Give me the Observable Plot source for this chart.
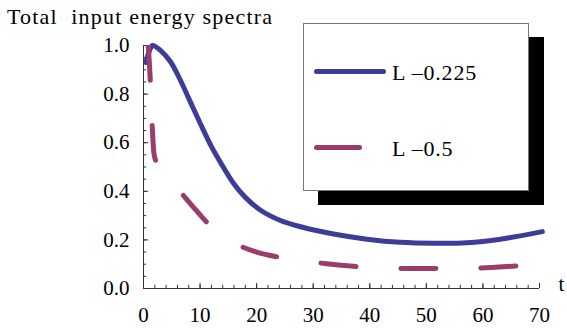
<!DOCTYPE html>
<html>
<head>
<meta charset="utf-8">
<style>
  html, body { margin: 0; padding: 0; background: #fff; }
  #wrap { position: relative; width: 567px; height: 330px; color: #000; font-family: "Times New Roman", Tinos, "Liberation Serif", serif; }
  #title { position: relative; height: 30px; }
  #title span { position: absolute; left: 7px; top: 5.6px; font-size: 22px; line-height: 22px; letter-spacing: 1.2px; white-space: pre; }
  #legend { position: absolute; left: 303px; top: 23px; width: 224px; height: 166px; border: 1px solid #777; background: #fff; box-shadow: 15px 14px 0 0 #000; }
  .sw { position: absolute; left: 10px; height: 5px; border-radius: 2.5px; }
  .lab { position: absolute; left: 88px; font-size: 22px; line-height: 22px; letter-spacing: 0.8px; white-space: pre; }
</style>
</head>
<body>
<div id="wrap">
  <div id="title"><span></span></div>
  <div id="chart"></div>
  <div id="legend"></div>
</div>
<script src="https://cdn.jsdelivr.net/npm/d3@7"></script>
<script src="https://cdn.jsdelivr.net/npm/@observablehq/plot@0.6"></script>
<script>
// ---- data ----
const titleText = "Total  input energy spectra";
const xLabel = "t";
const seriesLabels = ["L \u20130.225", "L \u20130.5"];
const seriesColors = ["#3d3d99", "#993d6b"];

// L = 0.225 (solid)
const tSolid = [0.4, 1.0, 1.6, 3.0, 4.8, 6.5, 8.3, 10.1, 11.9, 13.6, 15.9, 18.0, 20.7, 24.2, 27.8, 33.6, 39.5, 45.4, 51.3, 57.2, 63.1, 70.5];
const vSolid = [0.93, 0.975, 1.0, 0.98, 0.932, 0.858, 0.767, 0.676, 0.589, 0.519, 0.433, 0.375, 0.322, 0.28, 0.254, 0.224, 0.203, 0.19, 0.186, 0.188, 0.203, 0.234];

// L = 0.5 (dashed)
const tDashed = [0.85, 1.05, 1.24, 1.4, 1.54, 1.7, 1.85, 2.1, 2.4, 3.5, 5, 6.8, 9, 11.3, 14, 17.1, 20, 23.6, 27, 30.7, 37.8, 44.5, 51.6, 58.7, 65.8, 70];
const vDashed = [1.0, 0.92, 0.84, 0.75, 0.67, 0.6, 0.555, 0.53, 0.515, 0.48, 0.44, 0.39, 0.33, 0.27, 0.215, 0.175, 0.15, 0.13, 0.115, 0.106, 0.09, 0.083, 0.082, 0.083, 0.093, 0.1];

const xTicks = [0, 10, 20, 30, 40, 50, 60, 70];
const xTickLabels = ["0", "10", "20", "30", "40", "50", "60", "70"];
const xMinorTicks = d3.range(0, 71, 2);
const yTicks = [0, 0.2, 0.4, 0.6, 0.8, 1.0];
const yTickLabels = ["0.0", "0.2", "0.4", "0.6", "0.8", "1.0"];
const yMinorTicks = d3.range(0, 21).map(i => i * 0.05);

// ---- build ----
const solid = tSolid.map((t, i) => ({t, v: vSolid[i]}));
const dashed = tDashed.map((t, i) => ({t, v: vDashed[i]}));

document.querySelector("#title span").textContent = titleText;

const serif = "'Times New Roman', Tinos, 'Liberation Serif', serif";
const axisColor = "#333";
const chart = Plot.plot({
  width: 567,
  height: 300,
  marginLeft: 143,
  marginRight: 28,
  marginTop: 15,
  marginBottom: 42,
  x: {domain: [0, 70]},
  y: {domain: [0, 1]},
  style: {fontFamily: serif, fontSize: "21px", color: "#000", background: "transparent", overflow: "visible"},
  marks: [
    Plot.axisX({ticks: xTicks, tickSize: 0, tickPadding: 18.6, tickFormat: d => xTickLabels[xTicks.indexOf(d)], label: null, fontSize: 21}),
    Plot.axisY({ticks: yTicks, tickSize: 0, tickPadding: 14, tickFormat: d => yTickLabels[yTicks.indexOf(d)], label: null, fontSize: 21}),
    Plot.ruleX(xMinorTicks, {x: d => d, y1: 0, y2: 0.013, stroke: axisColor, strokeWidth: 1}),
    Plot.ruleX(xTicks, {x: d => d, y1: 0, y2: 0.021, stroke: axisColor, strokeWidth: 1}),
    Plot.ruleY(yMinorTicks, {y: d => d, x1: 0, x2: 0.55, stroke: axisColor, strokeWidth: 1}),
    Plot.ruleY(yTicks, {y: d => d, x1: 0, x2: 0.9, stroke: axisColor, strokeWidth: 1}),
    Plot.ruleX([0], {stroke: axisColor, strokeWidth: 1}),
    Plot.ruleY([0], {stroke: axisColor, strokeWidth: 1}),
    Plot.line(solid, {x: "t", y: "v", stroke: seriesColors[0], strokeWidth: 5, curve: "catmull-rom"}),
    Plot.line(dashed, {x: "t", y: "v", stroke: seriesColors[1], strokeWidth: 5, curve: "catmull-rom", strokeDasharray: "35,45", strokeLinecap: "round", clip: true}),
    Plot.text([xLabel], {frameAnchor: "bottom-right", dx: 19, dy: 2, textAnchor: "start", fontSize: 21})
  ]
});
document.getElementById("chart").appendChild(chart);

// legend
const legend = document.getElementById("legend");
const swatchWidths = [72, 48];
const swatchTops = [44.5, 121.2];
const labelTops = [37.6, 113.6];
seriesLabels.forEach((lab, i) => {
  const sw = document.createElement("div");
  sw.className = "sw";
  sw.style.top = swatchTops[i] + "px";
  sw.style.width = swatchWidths[i] + "px";
  sw.style.background = seriesColors[i];
  legend.appendChild(sw);
  const tx = document.createElement("div");
  tx.className = "lab";
  tx.style.top = labelTops[i] + "px";
  tx.textContent = lab;
  legend.appendChild(tx);
});
</script>
</body>
</html>
